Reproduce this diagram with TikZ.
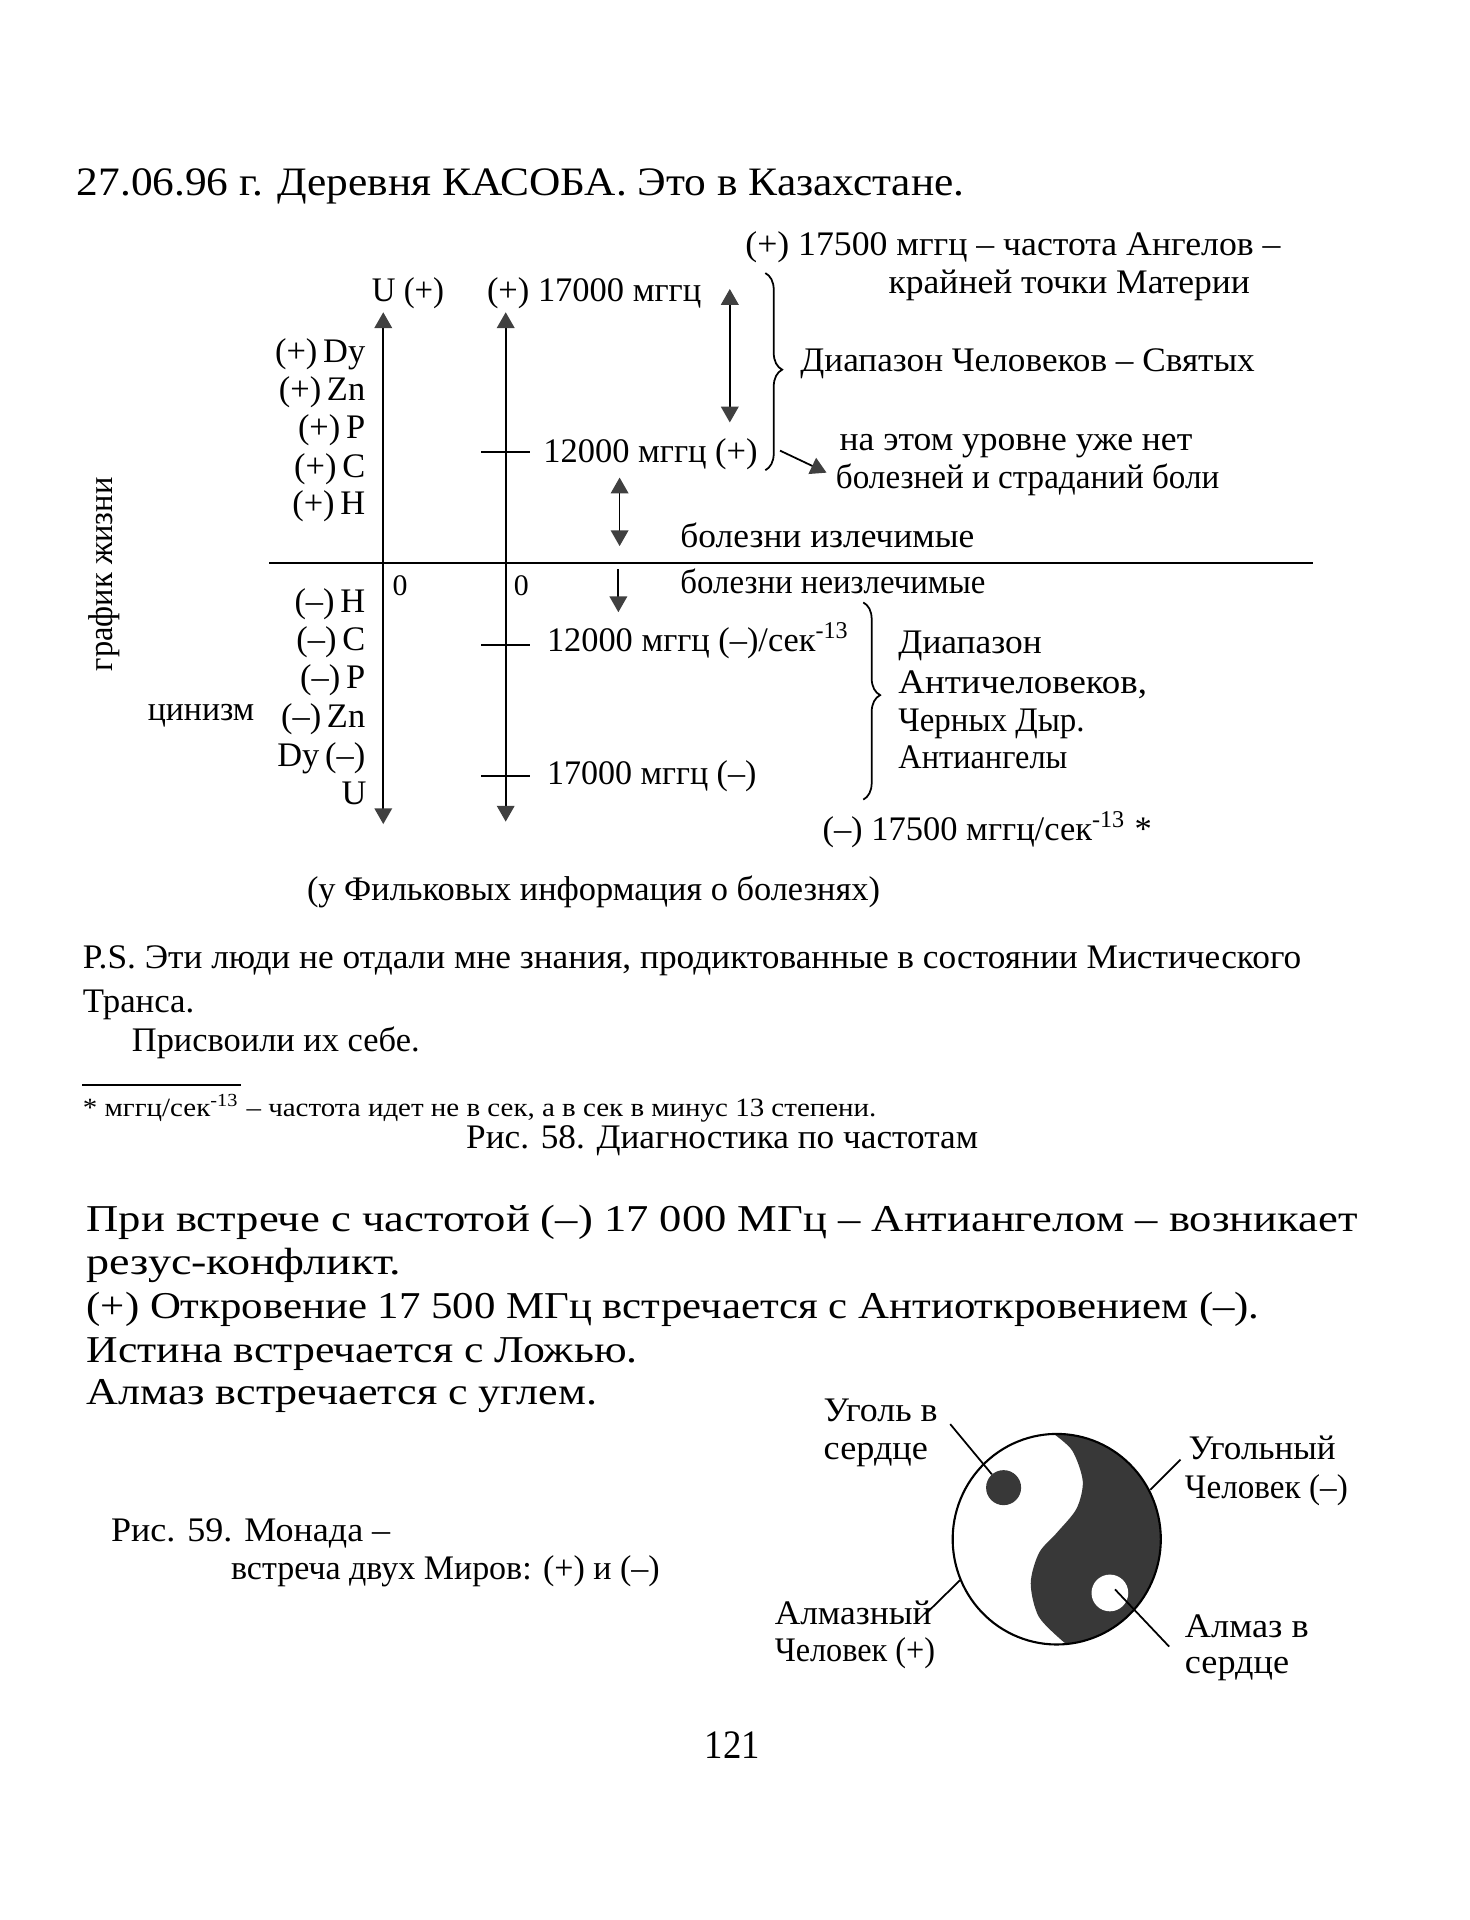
\documentclass[tikz,border=0pt]{standalone}
\usepackage{fontspec}
\setmainfont{Liberation Serif}
\usetikzlibrary{arrows.meta,decorations.pathreplacing}
\newdimen\upx \upx=0.01225cm
\newcommand\fw[2]{\resizebox{#1\upx}{\height}{#2}}
\begin{document}
\begin{tikzpicture}[x=0.01225cm,y=-0.01225cm,line width=0.5pt,
 >={Triangle[width=5pt,length=4.5pt,color=black!75]},
 tx/.style={inner sep=0pt,anchor=base west},
 txe/.style={inner sep=0pt,anchor=base east},
 ttl/.style={font=\fontsize{11.5}{13}\selectfont},
 dg/.style={font=\fontsize{9.8}{11}\selectfont},
 zr/.style={font=\fontsize{8.5}{10}\selectfont},
 ft/.style={font=\fontsize{7.5}{9}\selectfont},
 bg/.style={font=\fontsize{10.8}{12}\selectfont},
 pg/.style={font=\fontsize{11.5}{13}\selectfont},
 brc/.style={decorate,decoration={brace,amplitude=4.8pt,aspect=#1}},
 darkfill/.style={fill=black!78}
 ]
\fill[white] (0,0) rectangle (1200,1568);
\useasboundingbox (0,0) rectangle (1200,1568);

% title
\node[tx,ttl] (title) at (62,160) {\fw{725}{27.06.96 г. Деревня КАСОБА. Это в Казахстане.}};

% diagram texts
\node[tx,dg] (a17500) at (608,209) {\fw{437}{(+) 17500 мггц – частота Ангелов –}};
\node[tx,dg] (mat) at (725,240) {\fw{295}{крайней точки Материи}};
\node[tx,dg] (uplus) at (303,246) {\fw{59}{U (+)}};
\node[tx,dg] (p17000) at (397,246) {\fw{175}{(+) 17000 мггц}};
\node[tx,dg] (saints) at (653,303) {\fw{371}{Диапазон Человеков – Святых}};
\node[tx,dg] (lvl1) at (685,368) {\fw{288}{на этом уровне уже нет}};
\node[tx,dg] (lvl2) at (682,399) {\fw{313}{болезней и страданий боли}};
\node[tx,dg] (p12000) at (443,378) {\fw{175}{12000 мггц (+)}};
\node[tx,dg] (cur) at (555,447) {\fw{240}{болезни излечимые}};
\node[tx,dg] (incur) at (555,485) {\fw{249}{болезни неизлечимые}};
\node[tx,zr] (z1) at (320,486) {0};
\node[tx,zr] (z2) at (419,486) {0};
\node[tx,dg] (m12000) at (446,532) {\fw{247}{12000 мггц (–)/сек\textsuperscript{-13}}};
\node[tx,dg] (m17000) at (446,641) {\fw{171}{17000 мггц (–)}};
\node[tx,dg] (anti1) at (733,534) {\fw{117}{Диапазон}};
\node[tx,dg] (anti2) at (733,566) {\fw{203}{Античеловеков,}};
\node[tx,dg] (anti3) at (733,597) {\fw{152}{Черных Дыр.}};
\node[tx,dg] (anti4) at (733,628) {\fw{138}{Антиангелы}};
\node[tx,dg] (m17500) at (671,686) {\fw{269}{(–) 17500 мггц/сек\textsuperscript{-13} *}};

% element labels
\node[txe,dg] (e1) at (299,296) {(+)\,Dy};
\node[txe,dg] (e2) at (299,327) {(+)\,Zn};
\node[txe,dg] (e3) at (299,358) {(+)\,P};
\node[txe,dg] (e4) at (299,390) {(+)\,C};
\node[txe,dg] (e5) at (299,420) {(+)\,H};
\node[txe,dg] (e6) at (299,500) {(–)\,H};
\node[txe,dg] (e7) at (299,531) {(–)\,C};
\node[txe,dg] (e8) at (299,562) {(–)\,P};
\node[txe,dg] (e9) at (299,594) {(–)\,Zn};
\node[txe,dg] (e10) at (299,626) {Dy\,(–)};
\node[txe,dg] (e11) at (300,657) {U};

\node[dg,inner sep=0pt,rotate=90,anchor=base] (life) at (92,469) {\fw{158}{график жизни}};
\node[tx,dg] (cyn) at (120,588) {\fw{87}{цинизм}};

% axes and arrows
\coordinate (ax1t) at (313,255); \coordinate (ax1b) at (313,673);
\coordinate (ax2t) at (413,255); \coordinate (ax2b) at (413,671);
\draw[<->] (ax1t) -- (ax1b);
\draw[<->] (ax2t) -- (ax2b);
\coordinate (hl) at (220,460); \coordinate (hr) at (1072,460);
\draw (hl) -- (hr);
\draw (393,369) -- (433,369);
\draw (393,527) -- (433,527);
\draw (393,634) -- (433,634);
\draw[<->] (596,236) -- (596,345);
\draw[<->] (506,390) -- (506,446);
\draw[->] (505,465) -- (505,500);
\coordinate (b1t) at (625,223); \coordinate (b1b) at (625,384);
\draw[brc=0.49] (b1t) -- (b1b);
\draw[->] (637,368) -- (675,386);
\coordinate (b2t) at (705,492); \coordinate (b2b) at (705,653);
\draw[brc=0.47] (b2t) -- (b2b);

% notes
\node[tx,dg] (filk) at (250,735) {\fw{468}{(у Фильковых информация о болезнях)}};
\node[tx,dg] (ps1) at (67,791) {\fw{995}{P.S. Эти люди не отдали мне знания, продиктованные в состоянии Мистического}};
\node[tx,dg] (ps2) at (67,827) {\fw{91}{Транса.}};
\node[tx,dg] (ps3) at (107,859) {\fw{235}{Присвоили их себе.}};
\draw (67,886) -- (197,886);
\node[tx,ft] (fn) at (67,912) {\fw{648}{* мггц/сек\textsuperscript{-13} – частота идет не в сек, а в сек в минус 13 степени.}};
\node[tx,dg] (cap58) at (380,938) {\fw{418}{Рис. 58. Диагностика по частотам}};

\node[tx,bg] (b1) at (70,1006) {\fw{1038}{При встрече с частотой (–) 17 000 МГц – Антиангелом – возникает}};
\node[tx,bg] (b2) at (70,1041) {\fw{257}{резус-конфликт.}};
\node[tx,bg] (b3) at (70,1077) {\fw{958}{(+) Откровение 17 500 МГц встречается с Антиоткровением (–).}};
\node[tx,bg] (b4) at (70,1113) {\fw{450}{Истина встречается с Ложью.}};
\node[tx,bg] (b5) at (70,1147) {\fw{417}{Алмаз встречается с углем.}};

\node[tx,dg] (cap59a) at (90,1259) {\fw{228}{Рис. 59. Монада –}};
\node[tx,dg] (cap59b) at (188,1290) {\fw{350}{встреча двух Миров: (+) и (–)}};

% yin-yang
\begin{scope}[shift={(863,1257)},xscale=85,yscale=86]
\fill[darkfill] plot[smooth] coordinates {(-0.03,-1) (0.15,-0.84) (0.25,-0.55) (0.19,-0.29) (0,-0.06) (-0.17,0.13) (-0.25,0.42) (-0.17,0.74) (0.09,0.996)}
  -- plot[domain=84.8:-91.7,samples=60] ({cos(\x)},{sin(\x)}) -- cycle;
\draw[line width=0.6pt] plot[domain=0:360,samples=120] ({cos(\x)},{sin(\x)}) -- cycle;
\end{scope}
\fill[darkfill] (819.6,1214.9) circle[radius=14.3];
\fill[white] (906.4,1300.9) circle[radius=15];
\draw (776,1163) -- (810,1204);
\draw (964,1192) -- (939.5,1216.6);
\draw (784,1290.5) -- (756,1318);
\draw (910.6,1298) -- (954.8,1344.7);

\node[tx,dg] (coal1) at (672,1161) {\fw{93}{Уголь в}};
\node[tx,dg] (coal2) at (672,1192) {\fw{85}{сердце}};
\node[tx,dg] (cman1) at (970,1192) {\fw{120}{Угольный}};
\node[tx,dg] (cman2) at (967,1224) {\fw{133}{Человек (–)}};
\node[tx,dg] (dman1) at (632,1327) {\fw{128}{Алмазный}};
\node[tx,dg] (dman2) at (632,1357) {\fw{131}{Человек (+)}};
\node[tx,dg] (dia1) at (967,1337) {\fw{101}{Алмаз в}};
\node[tx,dg] (dia2) at (967,1367) {\fw{85}{сердце}};

\node[tx,pg] (pnum) at (575,1436) {\fw{45}{121}};
\end{tikzpicture}
\end{document}
